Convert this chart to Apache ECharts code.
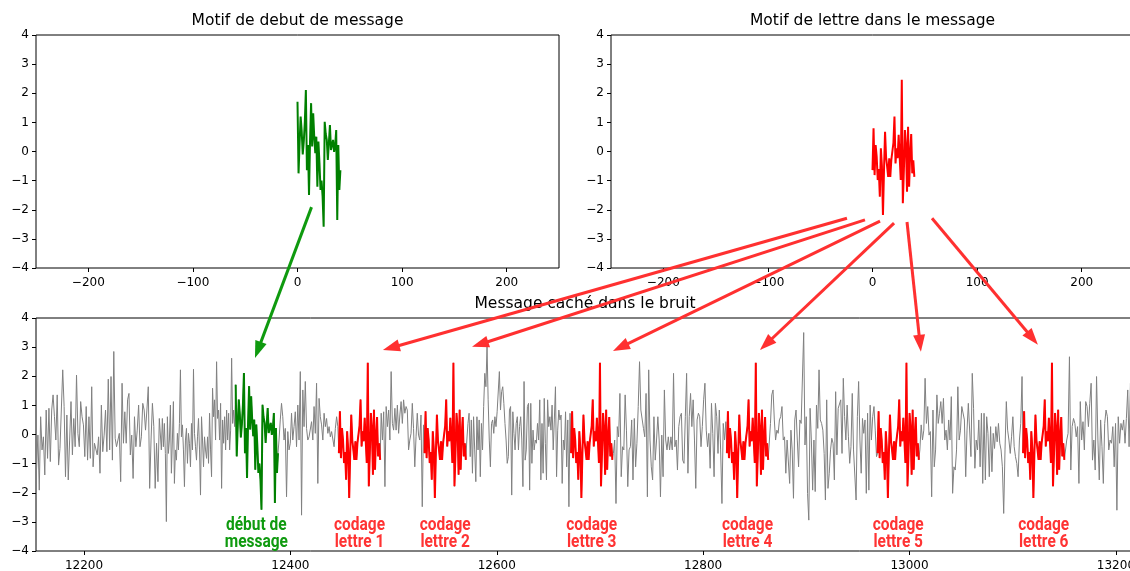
<!DOCTYPE html>
<html><head><meta charset="utf-8">
<script src="https://cdn.jsdelivr.net/npm/echarts@6/dist/echarts.min.js"></script>
<style>html,body{margin:0;padding:0;overflow:hidden;background:#fff}#c{width:1140px;height:571px}</style>
</head><body><div id="c"></div><script>
// ---------- data ----------
const titleDebut = 'Motif de debut de message';
const titleLettre = 'Motif de lettre dans le message';
const titleBruit = 'Message caché dans le bruit';

const motifDebut = [1.71,-0.75,0.3,1.20,0.7,-0.1,0.34,1.0,2.11,-0.64,0.22,-1.49,0.4,1.66,0.17,1.31,0.5,-0.06,0.51,-1.21,0.34,-0.4,-1.32,-1.0,-1.55,-2.58,1.02,0.6,0.40,-0.29,0.3,0.91,0.05,-0.01,0.40,-0.01,0.2,0.74,-2.35,0.22,-1.32,-0.64];
const motifLettre = [-0.64,0.80,-0.81,0.22,-0.18,-0.98,-0.6,-1.55,0.11,-0.5,-2.18,-0.64,0.68,-0.2,-0.52,-0.87,-0.23,-0.87,-0.29,-0.35,0.3,1.20,-0.41,0.11,-0.23,0.57,-0.2,-0.98,2.46,-1.78,-0.64,0.74,0.2,-1.38,0.85,-1.21,-0.06,0.6,-0.75,-0.3,-0.87];

const debutStart = 12347;
const lettreStarts = [12447, 12530, 12672, 12823, 12969, 13110];

const noiseA1 = [-1.22,-0.02,-1.91,0.61,-0.53,-0.08,-1.39,0.84,-0.82,0.90,-0.93,0.84,1.36,0.61,-0.19,1.36,-1.05,-0.48,-0.53,2.22,0.96,-1.45,0.67,-1.56,-0.19,1.13,-0.70,0.55,-0.42,2.04,0.04,-0.42,1.13,0.61,0.33,-0.76,0.96,-0.88,0.61,-0.82,1.64,-1.11,-0.30,-0.25,-0.70,-0.08,-1.33,1.01,-0.59,-0.02,0.84,-0.59,1.90,-0.53,1.99,-0.88,2.85,-0.13,-0.42,-0.19,0.04,-1.62,1.76,-0.30,0.78,-0.30,1.19,1.41,-0.70,-0.02,-1.51,0.61,-0.42,0.15,1.01,-0.42,-0.08,1.07,0.84,0.15,0.84,1.64,-1.85,-0.19,1.07,0.27,-1.85,-0.30,-1.62,0.55];
const noiseA2 = [0.50,-0.53,0.55,-0.42,0.38,-0.65,-2.99,0.61,-0.65,-0.19,1.01,-1.33,-0.19,1.13,-1.68,-0.53,-0.88,0.04,-0.53,0.38,2.22,-0.08,0.33,-0.53,-1.79,-0.19,0.21,-0.99,0.04,-0.30,-1.11,0.38,-0.53,2.24,0.04,-0.42,-0.88,-0.08,0.55,-0.53,-2.08,0.61,-0.19,-1.11,-0.08,-0.53,-0.82,-0.08,-0.99,0.73,-0.53,-1.45,1.59,0.61,1.19,-0.19,2.50,0.55,0.84,-0.19,1.07,-1.85,0.50,-0.30,0.61,-0.53,0.84,-0.19,0.73,-0.53,0.15,2.62,0.38,0.84,0.27];
const noiseB = [-0.19,0.50,1.07,0.61,-0.19,0.21,-2.14,0.10,-0.53,-0.30,0.73,-0.19,0.27,0.78,-0.42,1.01,-0.19,2.16,-2.77,1.53,0.27,1.82,0.21,-0.19,-0.08,-0.13,0.44,-0.19,0.96,0.04,1.76,-1.68,1.24,0.61,0.33,-0.19,0.73,0.27,0.55,0.04,0.27,-0.08,0.10,0.04,-0.42,0.21,0.61,0.27];
const noiseC = [0.73,-0.19,0.78,-1.79,0.96,0.27,0.84,-0.19,2.16,0.38,0.15,0.90,0.15,1.01,0.04,0.67,1.13,0.38,1.19,0.73,0.96,0.84,-0.53,-0.19,0.04,1.07,0.21,-1.11,-0.08,0.73,-0.02,-0.19,0.67,-2.48,0.33];
const noiseD = [-0.19,0.38,0.73,-0.76,0.50,-1.33,0.61,-0.53,-1.62,0.61,-0.53,0.50,-1.45,0.38,-0.53,0.96,2.10,1.64,3.02,1.19,-0.19,-1.11,0.38,0.50,0.04,0.61,0.27,0.78,0.73,2.16,0.84,1.47,1.64,1.07,0.38,-0.19,-0.99,-0.76,0.84,0.96,-2.08,0.78,0.04,-0.53,0.38,0.61,-0.53,0.27,0.61,-0.19,-1.79,1.82,-0.88,-0.53,0.96,1.07,-1.91,1.07,-0.99,0.15,-0.53,-0.19,-0.30,0.38,-0.19,1.19,-1.56,0.38,-1.33,1.24,-0.30,-1.56,1.19,0.27,0.61,0.15,1.01,-0.53,0.50,1.64,-1.45,0.15,0.84,0.50,0.67,-1.68,-0.19,-0.53,0.78,-1.11,0.50,-2.48,0.73];
const noiseE = [-0.65,-0.19,-2.37,0.27,-0.08,1.41,-1.45,-0.42,-0.53,1.36,0.15,-1.79,-0.53,-0.42,0.50,-1.56,0.55,-1.11,-0.30,0.96,2.50,0.84,0.78,0.21,-0.08,1.41,-2.14,2.22,-0.19,-1.11,-1.56,0.61,-0.88,-0.19,0.61,-0.19,-2.14,-0.02,-1.45,1.53,-0.19,-0.53,-0.08,-0.53,-0.08,-0.53,2.10,-0.42,-0.19,-1.22,0.27,0.61,0.73,-0.88,-0.99,0.61,2.10,-1.33,0.61,1.41,0.27,1.19,-0.19,-1.85,0.50,0.73,0.61,-0.42,0.27,1.19,1.76,0.15,-0.42,0.04,-1.16,1.07,0.04,-1.45,1.07,0.61,-0.65,0.84,-0.53,-2.37,0.38,-0.19,0.44];
const noiseF = [-0.88,0.38,1.36,1.53,0.50,-0.19,0.15,0.04,0.50,0.61,0.96,-0.19,-0.08,-1.33,-0.19,-0.13,-1.68,0.15,-0.53,-2.19,0.50,0.84,-0.19,-1.11,0.50,0.38,0.33,3.5,-0.36,0.61,-2.02,-2.94,0.90,-0.19,-1.91,-0.19,-1.96,1.01,0.21,2.22,0.50,0.38,0.15,-0.65,-2.25,1.19,-1.85,-1.33,-0.53,-0.13,-0.30,-1.56,1.47,-0.70,0.90,0.96,1.19,-0.65,1.93,0.61,-0.19,1.01,-0.08,-0.99,-0.42,1.41,-0.53,-0.53,-2.25,0.61,1.82,-0.19,-1.33,0.55,0.04,0.50,-2.02,0.73,-1.91,1.01,-0.19,0.61,0.96,0.15,-0.76];
const noiseG = [-0.53,0.33,-0.19,0.15,1.93,0.38,0.96,-0.02,0.10,-2.14,0.84,-1.11,-0.53,1.36,0.38,0.73,1.13,0.38,1.24,-0.19,0.15,-0.53,0.50,-0.19,1.30,-2.02,-1.11,-1.22,-0.53,1.64,-0.19,0.15,0.96,1.01,0.50,-1.45,0.15,1.07,1.13,-0.76,2.10,0.90,-1.16,-0.19,-0.53,0.50,-1.11,0.73,-1.68,0.73,-1.56,0.61,0.04,-1.45,0.27,-1.28,0.04,-0.48,0.27,-0.25,0.38,-0.30,-0.53,-1.11,-2.71,-0.53,1.13,0.15,-0.19,-0.65,-0.08,0.61,-0.42,-0.76,-0.99,-1.45,-0.19,0.38,1.99];
const noiseH = [-0.88,-0.19,0.04,2.67,-1.22,0.27,0.55,0.38,-0.08,0.27,-1.68,1.13,-0.19,0.44,-0.53,1.13,0.96,0.27,1.07,1.76,-0.88,-0.19,-1.22,1.99,-0.19,-1.56,0.50,-0.42,-1.68,0.38,0.84,0.61,-0.53,-0.19,-0.30,0.27,-1.11,0.38,-2.60,0.61,-0.30,0.38,0.15,0.50,-0.30,0.55,1.53,-0.42,1.76,-0.08,0.38,-0.19];
const noiseChunks = [noiseA1, noiseA2, noiseB, noiseC, noiseD, noiseE, noiseF, noiseG, noiseH];
const noiseRanges = [[12154,12273],[12274,12346],[12389,12446],[12488,12529],[12571,12671],[12713,12822],[12864,12968],[13010,13109],[13151,13218]];

const motifTicks = [-200, -100, 0, 100, 200];
const bruitTicks = [12200, 12400, 12600, 12800, 13000, 13200];

const annotTexts = ['début de\nmessage','codage\nlettre 1','codage\nlettre 2','codage\nlettre 3','codage\nlettre 4','codage\nlettre 5','codage\nlettre 6'];
const greenArrowFrom = [13.4, -1.91];
const greenArrowTo = [12365.7, 2.63];
const redArrowFrom = [[-24.4,-2.29],[-7.2,-2.35],[7.2,-2.39],[20.6,-2.46],[33,-2.42],[56.9,-2.29]];
const redArrowTo = [[12489.7,2.90],[12576,3.01],[12712.6,2.87],[12855,2.90],[13011,2.84],[13124.4,3.08]];

// ---------- build ----------
const GREEN = '#008000', RED = '#ff0000', GRAY = '#808080';
const minus = v => String(v).replace('-', '\u2212');

const gray = [];
noiseChunks.forEach((vals, k) => {
  const [a, b] = noiseRanges[k], n = vals.length;
  vals.forEach((v, i) => gray.push([a + (b - a) * i / (n - 1), v]));
});
motifDebut.forEach((v, i) => gray.push([debutStart + i, v]));
lettreStarts.forEach(s => motifLettre.forEach((v, i) => gray.push([s + i, v])));
gray.sort((p, q) => p[0] - q[0]);

const grids = [
  {left: 36, top: 35, width: 523, height: 233},
  {left: 611, top: 35, width: 523, height: 233},
  {left: 36, top: 318, width: 1098, height: 233}
].map(g => Object.assign({show: true, borderColor: '#000', borderWidth: 1, backgroundColor: 'transparent', containLabel: false, outerBoundsMode: 'none'}, g));

const labelStyle = {color: '#000', fontSize: 12, fontFamily: 'DejaVu Sans'};
function xAx(g, min, max, ticks) {
  return {type: 'value', gridIndex: g, min, max, position: 'bottom',
    axisLine: {show: false, onZero: false}, splitLine: {show: false},
    axisTick: {show: true, length: 4, lineStyle: {color: '#000', width: 1}, customValues: ticks},
    axisLabel: Object.assign({customValues: ticks, formatter: minus, margin: 9}, labelStyle)};
}
function yAx(g) {
  return {type: 'value', gridIndex: g, min: -4, max: 4, interval: 1, position: 'left',
    axisLine: {show: false, onZero: false}, splitLine: {show: false},
    axisTick: {show: true, length: 4, lineStyle: {color: '#000', width: 1}},
    axisLabel: Object.assign({formatter: minus, margin: 7}, labelStyle)};
}
function lineSeries(g, data, color, width, z) {
  return {type: 'line', xAxisIndex: g, yAxisIndex: g, data, showSymbol: false, symbol: 'none', silent: true,
    lineStyle: {color, width}, itemStyle: {color}, z, animation: false};
}

const series = [
  lineSeries(0, motifDebut.map((v, i) => [i, v]), GREEN, 2, 3),
  lineSeries(1, motifLettre.map((v, i) => [i, v]), RED, 2, 3),
  lineSeries(2, gray, GRAY, 1, 2),
  lineSeries(2, motifDebut.map((v, i) => [debutStart + i, v]), GREEN, 2, 4)
];
lettreStarts.forEach(s => series.push(lineSeries(2, motifLettre.map((v, i) => [s + i, v]), RED, 2, 4)));

const chart = echarts.init(document.getElementById('c'), null, {renderer: 'canvas'});
chart.setOption({
  animation: false,
  backgroundColor: '#fff',
  grid: grids,
  xAxis: [xAx(0, -250, 250, motifTicks), xAx(1, -250, 250, motifTicks), xAx(2, 12153.5, 13217.5, bruitTicks)],
  yAxis: [yAx(0), yAx(1), yAx(2)],
  series
});

// ---------- annotations ----------
const P = (g, pt) => chart.convertToPixel({gridIndex: g}, pt);
function arrow(p0, p1, color, w, hl, hw) {
  const dx = p1[0] - p0[0], dy = p1[1] - p0[1], L = Math.hypot(dx, dy), ux = dx / L, uy = dy / L;
  const bx = p1[0] - ux * hl, by = p1[1] - uy * hl;
  return [
    {type: 'line', z: 100, shape: {x1: p0[0], y1: p0[1], x2: bx + ux * 2, y2: by + uy * 2}, style: {stroke: color, lineWidth: w}},
    {type: 'polygon', z: 100, shape: {points: [[p1[0], p1[1]], [bx - uy * hw / 2, by + ux * hw / 2], [bx + uy * hw / 2, by - ux * hw / 2]]}, style: {fill: color}}
  ];
}
const graphic = [];
const titleFont = {fontSize: 15.5, fontFamily: 'DejaVu Sans', fill: '#000', align: 'center', verticalAlign: 'middle'};
[[0, titleDebut, 20.5], [1, titleLettre, 20.5], [2, titleBruit, 304]].forEach(([g, t, y]) => {
  const gr = grids[g];
  graphic.push({type: 'text', x: gr.left + gr.width / 2, y, z: 100, style: Object.assign({text: t}, titleFont)});
});
graphic.push(...arrow(P(0, greenArrowFrom), P(2, greenArrowTo), '#0f9a0f', 3, 17, 12));
redArrowFrom.forEach((f, i) => graphic.push(...arrow(P(1, f), P(2, redArrowTo[i]), '#ff3030', 3, 17, 12)));
const annotX = [debutStart + 20].concat(lettreStarts.map(s => s + 20));
annotTexts.forEach((t, i) => {
  const p = P(2, [annotX[i], -3.4]);
  graphic.push({type: 'text', x: p[0], y: p[1], scaleX: 0.86, z: 100,
    style: {text: t, fill: i === 0 ? '#0f9a0f' : '#ff3333', fontFamily: 'Roboto', fontWeight: 'bold', fontSize: 18,
      lineHeight: 17, align: 'center', verticalAlign: 'middle'}});
});
chart.setOption({graphic});
</script></body></html>
